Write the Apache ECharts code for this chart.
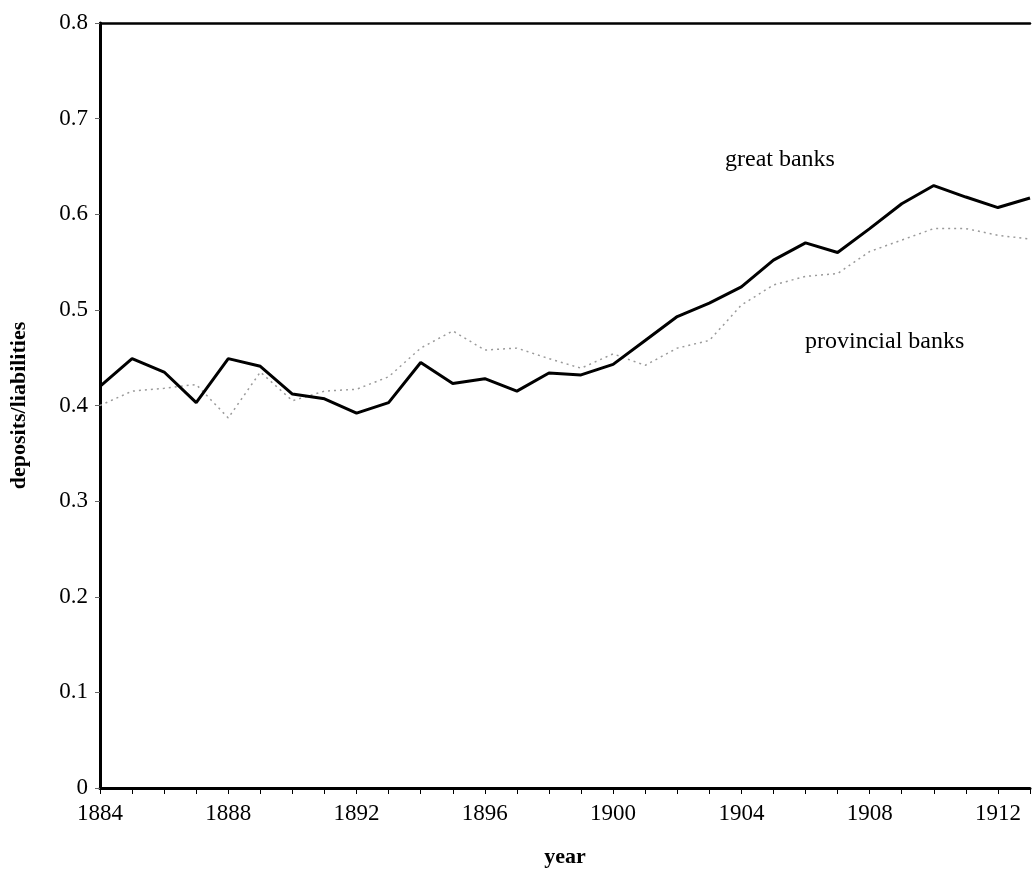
<!DOCTYPE html>
<html>
<head>
<meta charset="utf-8">
<script src="https://cdn.jsdelivr.net/npm/echarts@6/dist/echarts.min.js"></script>
<style>
    html, body { margin: 0; padding: 0; background: #fff; }
    #chart { width: 1033px; height: 876px; }
</style>
</head>
<body>
<div id="chart"></div>
<script>
    // years 1884..1913
    let years = [1884, 1885, 1886, 1887, 1888, 1889, 1890, 1891, 1892, 1893, 1894, 1895, 1896, 1897, 1898, 1899,
        1900, 1901, 1902, 1903, 1904, 1905, 1906, 1907, 1908, 1909, 1910, 1911, 1912, 1913];
    let greatBanks = [0.420, 0.449, 0.435, 0.403, 0.449, 0.441, 0.412, 0.407, 0.392, 0.403, 0.445, 0.423, 0.428, 0.415, 0.434, 0.432,
        0.443, 0.468, 0.493, 0.507, 0.524, 0.552, 0.570, 0.560, 0.585, 0.611, 0.630, 0.618, 0.607, 0.617];
    let provincialBanks = [0.400, 0.415, 0.418, 0.422, 0.387, 0.435, 0.405, 0.415, 0.417, 0.430, 0.460, 0.478, 0.458, 0.460, 0.449, 0.439,
        0.454, 0.442, 0.460, 0.468, 0.505, 0.526, 0.535, 0.538, 0.561, 0.573, 0.585, 0.585, 0.578, 0.574];
    let xLabelYears = [1884, 1888, 1892, 1896, 1900, 1904, 1908, 1912];
    let yTicks = [0, 0.1, 0.2, 0.3, 0.4, 0.5, 0.6, 0.7, 0.8];

    let font = '"Liberation Serif", "Times New Roman", serif';

    let chart = echarts.init(document.getElementById('chart'));
    let option = {
        backgroundColor: '#fff',
        animation: false,
        grid: {
            left: 100,
            right: -3,
            top: 23,
            bottom: 88
        },
        xAxis: [{
            type: 'value',
            min: 1884,
            max: 1913,
            interval: 1,
            name: 'year',
            nameLocation: 'middle',
            nameGap: 58,
            nameTextStyle: { fontFamily: font, fontSize: 22, fontWeight: 'bold', color: '#000' },
            axisLine: { show: true, lineStyle: { color: '#000', width: 3 } },
            axisTick: { show: true, length: 6, lineStyle: { color: '#000', width: 1 } },
            axisLabel: {
                margin: 14,
                fontFamily: font,
                fontSize: 23,
                color: '#000',
                formatter: function (v) {
                    return xLabelYears.indexOf(v) >= 0 ? String(v) : '';
                }
            },
            splitLine: { show: false }
        }, {
            type: 'value',
            position: 'top',
            min: 1884,
            max: 1913,
            axisLine: { show: true, lineStyle: { color: '#000', width: 2.5 } },
            axisTick: { show: false },
            axisLabel: { show: false },
            splitLine: { show: false }
        }],
        yAxis: {
            type: 'value',
            min: 0,
            max: 0.8,
            interval: 0.1,
            name: 'deposits/liabilities',
            nameLocation: 'middle',
            nameGap: 70,
            nameRotate: 90,
            nameTextStyle: { fontFamily: font, fontSize: 22, fontWeight: 'bold', color: '#000' },
            axisLine: { show: true, lineStyle: { color: '#000', width: 3 } },
            axisTick: { show: true, length: 5, lineStyle: { color: '#666', width: 1 } },
            axisLabel: {
                margin: 12,
                fontFamily: font,
                fontSize: 23,
                color: '#000',
                formatter: function (v) {
                    let t = yTicks.find(function (k) { return Math.abs(k - v) < 1e-6; });
                    return t === 0 ? '0' : t.toFixed(1);
                }
            },
            splitLine: { show: false }
        },
        graphic: [{
            type: 'text',
            left: 725,
            top: 148,
            style: { text: 'great banks', font: '24px ' + font, fill: '#000' }
        }, {
            type: 'text',
            left: 805,
            top: 330,
            style: { text: 'provincial banks', font: '24px ' + font, fill: '#000' }
        }],
        series: [{
            name: 'provincial banks',
            type: 'line',
            data: years.map(function (y, i) { return [y, provincialBanks[i]]; }),
            showSymbol: false,
            lineStyle: { color: '#9a9a9a', width: 1.5, type: [2, 4] },
            z: 2
        }, {
            name: 'great banks',
            type: 'line',
            data: years.map(function (y, i) { return [y, greatBanks[i]]; }),
            showSymbol: false,
            lineStyle: { color: '#000', width: 3 },
            z: 3
        }]
    };
    chart.setOption(option);
    window.addEventListener('resize', function () {
        chart.resize();
    });
</script>
</body>
</html>
